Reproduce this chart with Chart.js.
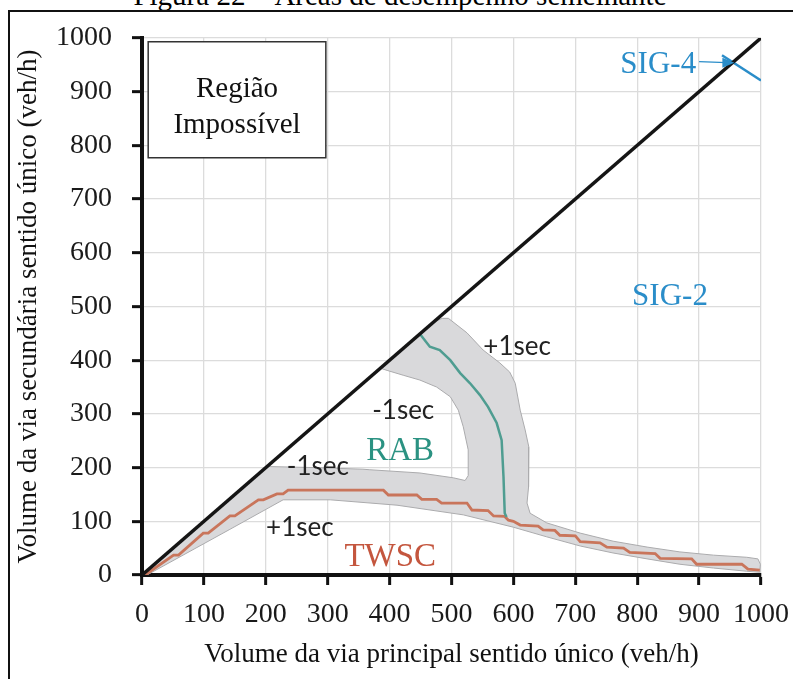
<!DOCTYPE html>
<html>
<head>
<meta charset="utf-8">
<script src="https://cdn.jsdelivr.net/npm/chart.js@4.4.0/dist/chart.umd.min.js"></script>
<style>
    html, body { margin: 0; padding: 0; background: #fff; overflow: hidden; }
    #wrap { position: relative; width: 793px; height: 679px; overflow: hidden; }
    #moldura { position: absolute; left: 8px; top: 10px; width: 820px; height: 720px; border-left: 2px solid #111; border-top: 2px solid #111; }
    #figura { position: absolute; left: 0; top: -20px; width: 800px; text-align: center; font: 29px 'Liberation Serif', serif; line-height: 30px; color: #000; }
    canvas { position: absolute; left: 0; top: 0; }
</style>
</head>
<body>
<div id="wrap">
    <div id="figura">Figura 22 – Áreas de desempenho semelhante</div>
    <div id="moldura"></div>
    <canvas id="graficoAreas" width="793" height="679"></canvas>
</div>
<script>
// eixos
const xTicks = [0, 100, 200, 300, 400, 500, 600, 700, 800, 900, 1000];
const yTicks = [0, 100, 200, 300, 400, 500, 600, 700, 800, 900, 1000];

// linha de igualdade (limite da regiao impossivel)
const diagX = [0, 1000];
const diagY = [0, 1000];

// TWSC (degraus)
const twscX = [5, 51, 59, 99, 107, 142, 150, 188, 196, 218, 228, 236, 390, 398, 444, 452, 476, 484, 525, 533, 559, 568, 586, 592, 600, 611, 640, 648, 667, 675, 700, 708, 740, 751, 778, 788, 829, 837, 888, 896, 969, 979, 998];
const twscY = [0, 37, 37, 78, 78, 110, 110, 140, 140, 151, 151, 158, 158, 149, 149, 141, 141, 134, 134, 121, 120, 110, 109, 102, 100, 93, 91, 84, 83, 74, 73, 62, 60, 52, 50, 42, 40, 31, 30, 20, 20, 11, 9];

// RAB
const rabX = [449, 465, 481, 498, 514, 530, 546, 559, 573, 581, 584, 586, 589];
const rabY = [449, 425, 419, 400, 376, 357, 335, 313, 283, 251, 183, 115, 108];

// SIG-4
const sig4X = [937, 1000];
const sig4Y = [968, 921];

// faixa +-1sec (contorno da area cinza)
const faixaX = [3, 202, 280, 357, 368, 449, 503, 522, 527, 527, 519, 511, 498, 476, 449, 422, 396, 385, 470, 485, 495, 525, 551, 578, 594, 603, 611, 619, 625, 625, 624, 622, 627, 654, 708, 761, 816, 869, 923, 977, 995, 999, 998, 977, 923, 869, 816, 761, 708, 654, 600, 519, 412, 304, 228, 142, 8, 3];
const faixaY = [0, 202, 200, 197, 196, 190, 181, 176, 185, 233, 276, 307, 332, 350, 363, 372, 381, 385, 470, 478, 478, 451, 419, 395, 378, 357, 307, 270, 238, 201, 164, 134, 115, 97, 78, 63, 52, 43, 37, 33, 30, 20, 5, 7, 13, 20, 30, 41, 54, 71, 89, 112, 130, 140, 140, 85, 0, 0];

const serif = "'Liberation Serif', 'Times New Roman', serif";
const pontos = (xs, ys) => xs.map((x, i) => ({ x: x, y: ys[i] }));

// textos sobre o grafico (posicao em unidades dos eixos)
const notas = [
    { texto: 'SIG-4', x: 834, y: 950, cor: '#2a8dc9', fonte: '31px ' + serif },
    { texto: 'SIG-2', x: 853, y: 518, cor: '#2a8dc9', fonte: '31px ' + serif },
    { texto: 'RAB', x: 417, y: 231, cor: '#2b9282', fonte: '33px ' + serif },
    { texto: 'TWSC', x: 401, y: 33, cor: '#c4563e', fonte: '33px ' + serif },
    { texto: '+1sec', x: 606, y: 425, cor: '#222', fonte: '26px Lato, sans-serif' },
    { texto: '-1sec', x: 422, y: 307, cor: '#222', fonte: '26px Lato, sans-serif' },
    { texto: '-1sec', x: 284, y: 201, cor: '#222', fonte: '26px Lato, sans-serif' },
    { texto: '+1sec', x: 255, y: 88, cor: '#222', fonte: '26px Lato, sans-serif' }
];

const anotacoes = {
    id: 'anotacoes',
    beforeDatasetsDraw(chart) {
        const { ctx, scales: { x, y } } = chart;
        // caixa "Regiao Impossivel"
        const x0 = x.getPixelForValue(10), x1 = x.getPixelForValue(297);
        const y0 = y.getPixelForValue(993), y1 = y.getPixelForValue(777);
        ctx.save();
        ctx.fillStyle = '#fff';
        ctx.fillRect(x0, y0, x1 - x0, y1 - y0);
        ctx.strokeStyle = '#333';
        ctx.lineWidth = 1.5;
        ctx.strokeRect(x0, y0, x1 - x0, y1 - y0);
        ctx.fillStyle = '#111';
        ctx.font = '29px ' + serif;
        ctx.textAlign = 'center';
        ctx.textBaseline = 'middle';
        const cx = (x0 + x1) / 2;
        ctx.fillText('Região', cx, y.getPixelForValue(905));
        ctx.fillText('Impossível', cx, y.getPixelForValue(838));
        ctx.restore();
    },
    afterDatasetsDraw(chart) {
        const { ctx, scales: { x, y } } = chart;
        ctx.save();
        ctx.textAlign = 'center';
        ctx.textBaseline = 'middle';
        notas.forEach(n => {
            ctx.font = n.fonte;
            ctx.fillStyle = n.cor;
            ctx.fillText(n.texto, x.getPixelForValue(n.x), y.getPixelForValue(n.y));
        });
        // seta SIG-4
        const ax = x.getPixelForValue(900), ay = y.getPixelForValue(956);
        const bx = x.getPixelForValue(957), by = y.getPixelForValue(954);
        ctx.strokeStyle = '#2a8dc9';
        ctx.fillStyle = '#2a8dc9';
        ctx.lineWidth = 1.2;
        ctx.beginPath();
        ctx.moveTo(ax, ay);
        ctx.lineTo(bx - 8, by);
        ctx.stroke();
        ctx.beginPath();
        ctx.moveTo(bx, by);
        ctx.lineTo(bx - 12, by - 5);
        ctx.lineTo(bx - 12, by + 5);
        ctx.closePath();
        ctx.fill();
        ctx.restore();
    }
};

const eixo = (titulo, ticks) => ({
    type: 'linear',
    min: 0,
    max: 1000,
    afterBuildTicks: s => { s.ticks = ticks.map(v => ({ value: v })); },
    ticks: {
        color: '#1a1a1a',
        font: { family: serif, size: 28 },
        padding: 13,
        maxRotation: 0,
        autoSkip: false,
        callback: v => String(v)
    },
    grid: {
        color: '#dcdcdc',
        lineWidth: 1.3,
        tickColor: '#111',
        tickLength: 10,
        tickWidth: 3
    },
    border: { display: true, color: '#111', width: 4 },
    title: {
        display: true,
        text: titulo,
        color: '#111',
        font: { family: serif, size: 27 },
        padding: { top: 13, bottom: 8 }
    }
});

const escalaX = eixo('Volume da via principal sentido único (veh/h)', xTicks);
escalaX.afterFit = s => {
    s.height = 104;
    s.paddingLeft = 0;
    s.paddingRight = 0;
};
const escalaY = eixo('Volume da via secundária sentido único (veh/h)', yTicks);
escalaY.afterFit = s => {
    s.width = 142;
    s.paddingTop = 0;
    s.paddingBottom = 0;
};
escalaY.ticks.padding = 20;

const config = {
    type: 'scatter',
    data: {
        datasets: [
            {
                label: 'Diagonal',
                data: pontos(diagX, diagY),
                showLine: true,
                borderColor: '#151515',
                borderWidth: 3.5,
                pointRadius: 0,
                order: 1
            },
            {
                label: 'SIG-4',
                data: pontos(sig4X, sig4Y),
                showLine: true,
                borderColor: '#2a8dc9',
                borderWidth: 2.5,
                pointRadius: 0,
                order: 1
            },
            {
                label: 'RAB',
                data: pontos(rabX, rabY),
                showLine: true,
                borderColor: '#4f9d91',
                borderWidth: 2.5,
                pointRadius: 0,
                order: 2
            },
            {
                label: 'TWSC',
                data: pontos(twscX, twscY),
                showLine: true,
                borderColor: '#c9755b',
                borderWidth: 2.8,
                pointRadius: 0,
                order: 3
            },
            {
                label: 'Faixa',
                data: pontos(faixaX, faixaY),
                showLine: true,
                fill: 'shape',
                backgroundColor: '#d9d9db',
                borderColor: '#ababad',
                borderWidth: 1,
                pointRadius: 0,
                order: 5
            }
        ]
    },
    options: {
        responsive: false,
        animation: false,
        layout: { padding: { left: 0, right: 32, top: 38, bottom: 0 } },
        plugins: {
            legend: { display: false },
            tooltip: { enabled: false },
            title: { display: false }
        },
        scales: { x: escalaX, y: escalaY }
    },
    plugins: [anotacoes]
};

new Chart(document.getElementById('graficoAreas'), config);
</script>
</body>
</html>
